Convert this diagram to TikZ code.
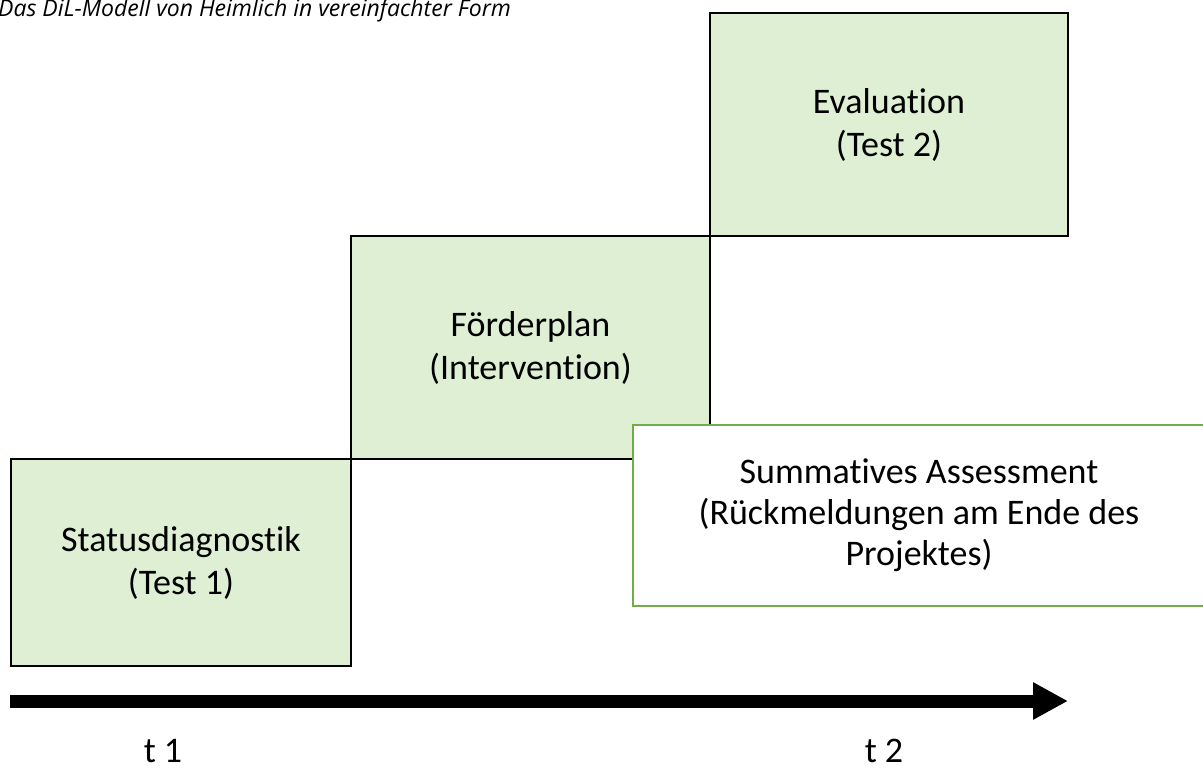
\documentclass[tikz,border=0pt]{standalone}
\usepackage{fontspec}
\setmainfont[Ligatures=NoCommon]{Carlito}
\newfontfamily\titlefont{Open Sans}
\usetikzlibrary{arrows.meta}
\definecolor{boxfill}{RGB}{223,239,212}
\definecolor{boxgreen}{RGB}{112,173,71}
\tikzset{
  stage/.style={draw=black, line width=2.6pt, fill=boxfill, inner sep=0pt, align=center,
    font=\fontsize{36}{43}\selectfont},
  summbox/.style={draw=boxgreen, line width=2.6pt, fill=white, inner sep=0pt, align=center,
    font=\fontsize{36}{41}\selectfont},
  tlabel/.style={font=\fontsize{36}{40}\selectfont, inner sep=0pt},
  timeline/.style={line width=13pt, -{Triangle[width=35pt,length=35pt]}}
}
\begin{document}
\begin{tikzpicture}[x=1pt,y=-1pt]
\useasboundingbox (0,0) rectangle (1203,772);
\begin{scope}
\clip (0,0) rectangle (1203,772);
\node[anchor=base west, inner sep=0pt, font=\titlefont\itshape\fontsize{23}{27}\selectfont] (title) at (-2,16) {Das DiL-Modell von Heimlich in vereinfachter Form};
\node[stage, minimum width=340pt, minimum height=207pt] (status) at (181,562.5) {Statusdiagnostik\\(Test 1)};
\node[stage, minimum width=359pt, minimum height=223pt] (foerder) at (530.5,347.5) {Förderplan\\(Intervention)};
\node[stage, minimum width=358pt, minimum height=223pt] (eval) at (889,124.5) {Evaluation\\(Test 2)};
\node[summbox, minimum width=572pt, minimum height=181pt] (summ) at (919,515.5) {Summatives Assessment\\(Rückmeldungen am Ende des\\Projektes)};
\coordinate (tstart) at (10,701);
\coordinate (tend) at (1068,701);
\draw[timeline] (tstart) -- (tend);
\node[tlabel, anchor=base] (t1) at (163,762) {t 1};
\node[tlabel, anchor=base] (t2) at (884,762) {t 2};
\end{scope}
\end{tikzpicture}
\end{document}
